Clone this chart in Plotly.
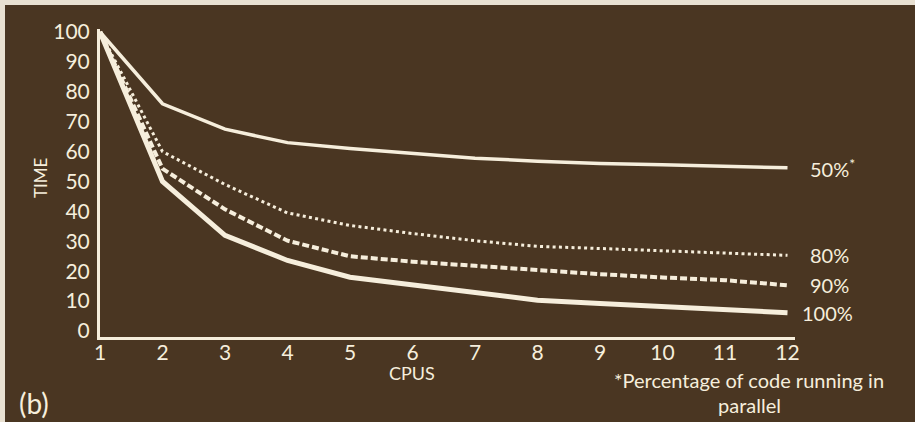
import plotly.graph_objects as go

cpus = [1, 2, 3, 4, 5, 6, 7, 8, 9, 10, 11, 12]
series_names = ["50%", "80%", "90%", "100%"]
time_50 = [100, 76, 67.5, 63, 61, 59.5, 57.8, 56.8, 56, 55.6, 55.2, 54.6]
time_80 = [100, 60, 49, 39.5, 35.3, 32.6, 30.2, 28.3, 27.6, 26.8, 26.2, 25.3]
time_90 = [100, 54.3, 40.7, 30.2, 25, 23.2, 21.8, 20.3, 19, 17.9, 17, 15.3]
time_100 = [100, 50, 32, 23.6, 18, 15.3, 12.6, 10.3, 9.2, 8.2, 7.3, 6.1]
end_labels = ["50%<sup>*</sup>", "80%", "90%", "100%"]
x_ticks = cpus
y_ticks = [0, 10, 20, 30, 40, 50, 60, 70, 80, 90, 100]

BG = "#4a3622"
FG = "#f6eedc"
EDGE = "#e9e1d2"
FONT = "Lato, 'Open Sans', sans-serif"

# figure placed at window offset (5, 5)
OFF = 5
W, H = 915 - OFF, 422 - OFF
PL, PR, PT, PB = 100, 795, 29, 337  # plot area in window pixels
PW, PH = PR - PL, PB - PT


def px(xw):
    return (xw - PL) / PW


def py(yw):
    return (PB - yw) / PH


fig = go.Figure()
styles = [
    (time_50, dict(color=FG, width=3.5)),
    (time_80, dict(color=FG, width=3, dash="3px,3.3px")),
    (time_90, dict(color=FG, width=4, dash="7px,3px")),
    (time_100, dict(color=FG, width=5)),
]
for name, (vals, ln) in zip(series_names, styles):
    fig.add_trace(go.Scatter(x=cpus, y=vals, mode="lines", name=name, line=ln,
                             showlegend=False, hoverinfo="skip"))

xshifts = [20, 20, 20, 12]
for lbl, vals, xs in zip(end_labels, [time_50, time_80, time_90, time_100], xshifts):
    fig.add_annotation(x=cpus[-1], y=vals[-1], text=lbl, showarrow=False,
                       xanchor="left", yanchor="middle", xshift=xs,
                       font=dict(family=FONT, size=20, color=FG))

fig.add_annotation(xref="paper", yref="paper", x=px(40), y=py(178), text="TIME",
                   textangle=-90, showarrow=False, xanchor="center", yanchor="middle",
                   font=dict(family=FONT, size=17, color=FG))
fig.add_annotation(xref="paper", yref="paper", x=px(412), y=py(373), text="CPUS",
                   showarrow=False, xanchor="center", yanchor="middle",
                   font=dict(family=FONT, size=18, color=FG))
fig.add_annotation(xref="paper", yref="paper", x=px(34), y=py(403),
                   text="(b)", showarrow=False, xanchor="center", yanchor="middle",
                   font=dict(family=FONT, size=28, color=FG))
fig.add_annotation(xref="paper", yref="paper", x=px(749), y=py(380),
                   text="*Percentage of code running in", showarrow=False,
                   xanchor="center", yanchor="middle",
                   font=dict(family=FONT, size=20, color=FG))
fig.add_annotation(xref="paper", yref="paper", x=px(749), y=py(405),
                   text="parallel", showarrow=False,
                   xanchor="center", yanchor="middle",
                   font=dict(family=FONT, size=20, color=FG))

fig.update_layout(
    width=W, height=H,
    margin=dict(l=PL - OFF, r=W - (PR - OFF), t=PT - OFF, b=H - (PB - OFF)),
    paper_bgcolor=BG, plot_bgcolor=BG,
    font=dict(family=FONT, color=FG),
)
fig.update_xaxes(range=[1, 12.12], tickvals=x_ticks, ticktext=[str(v) for v in x_ticks],
                 showgrid=False, zeroline=False, showline=True, linecolor=FG, linewidth=3,
                 ticks="", ticklabelstandoff=-5, tickfont=dict(family=FONT, size=21, color=FG))
fig.update_yaxes(range=[-2, 101], tickvals=y_ticks, ticktext=[str(v) for v in y_ticks],
                 showgrid=False, zeroline=False, showline=True, linecolor=FG, linewidth=3,
                 ticks="", ticklabelstandoff=3, tickfont=dict(family=FONT, size=21, color=FG))

post = (
    "document.body.style.margin='0';"
    "document.body.style.background='" + EDGE + "';"
    "var d=document.getElementById('{plot_id}');"
    "d.style.marginLeft='" + str(OFF) + "px';"
    "d.style.paddingTop='" + str(OFF) + "px';"
)
fig.write_html("out.html", post_script=post)
